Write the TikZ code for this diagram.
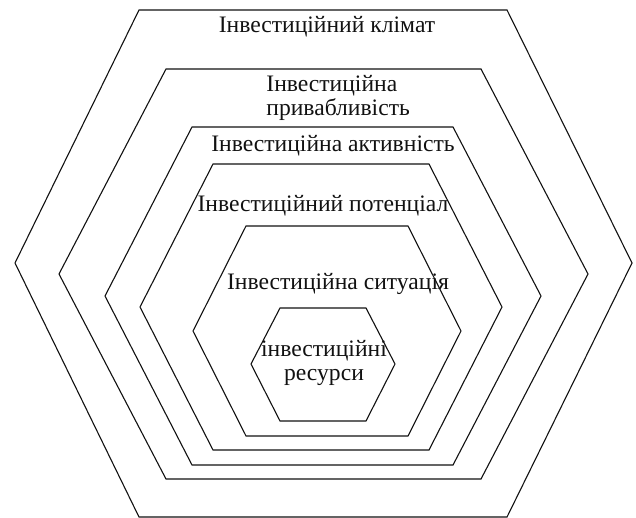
\documentclass[tikz,border=0pt]{standalone}
\usepackage{fontspec}
\setmainfont{Liberation Serif}
\usepackage{tikz}
\usetikzlibrary{positioning}
\definecolor{hxInk}{HTML}{111111}
\tikzset{
  hexline/.style ={draw=hxInk,line width=0.55pt,line join=miter},
  lbl/.style     ={font=\fontsize{11.8}{11.8}\selectfont,text=hxInk,inner sep=0pt},
  mlbl/.style    ={lbl,font=\fontsize{11.8}{10}\selectfont,align=left},
  clbl/.style    ={lbl,align=center},
}

\begin{document}
\begin{tikzpicture}[x=0.5pt,y=-0.5pt]
\useasboundingbox (0,0) rectangle (636,518);
%% nested hexagons: top-left x / top-right x / left tip / right tip / top y / tip y / bottom y
\foreach \xl/\xr/\vl/\vr/\ty/\my/\by in {139/507/15/632/10/263/517,
    166/481/59/588/69/274/479, 192/453/105/541/127/296/465,
    213/429/140/502/164/307/450, 246/408/193/461/226/331/436,
    280/366/251/395/308/364/421}
  \draw[hexline] (\xl,\ty) -- (\xr,\ty) -- (\vr,\my) -- (\xr,\by)
                 -- (\xl,\by) -- (\vl,\my) -- cycle;

\node[lbl,anchor=base] (klimat)  at (327,33)  {Інвестиційний клімат};
\node[mlbl,anchor=west] (pryvab) at (266,98)  {Інвестиційна\\привабливість};
\node[lbl,anchor=base] (aktyv)   at (333,152) {Інвестиційна активність};
\node[lbl,anchor=base] (potenc)  at (323,212) {Інвестиційний потенціал};
\node[lbl,anchor=base] (sytuac)  at (338,289) {Інвестиційна ситуація};
\node[clbl] (resurs)             at (324,363) {інвестиційні\\ресурси};
\end{tikzpicture}
\end{document}
